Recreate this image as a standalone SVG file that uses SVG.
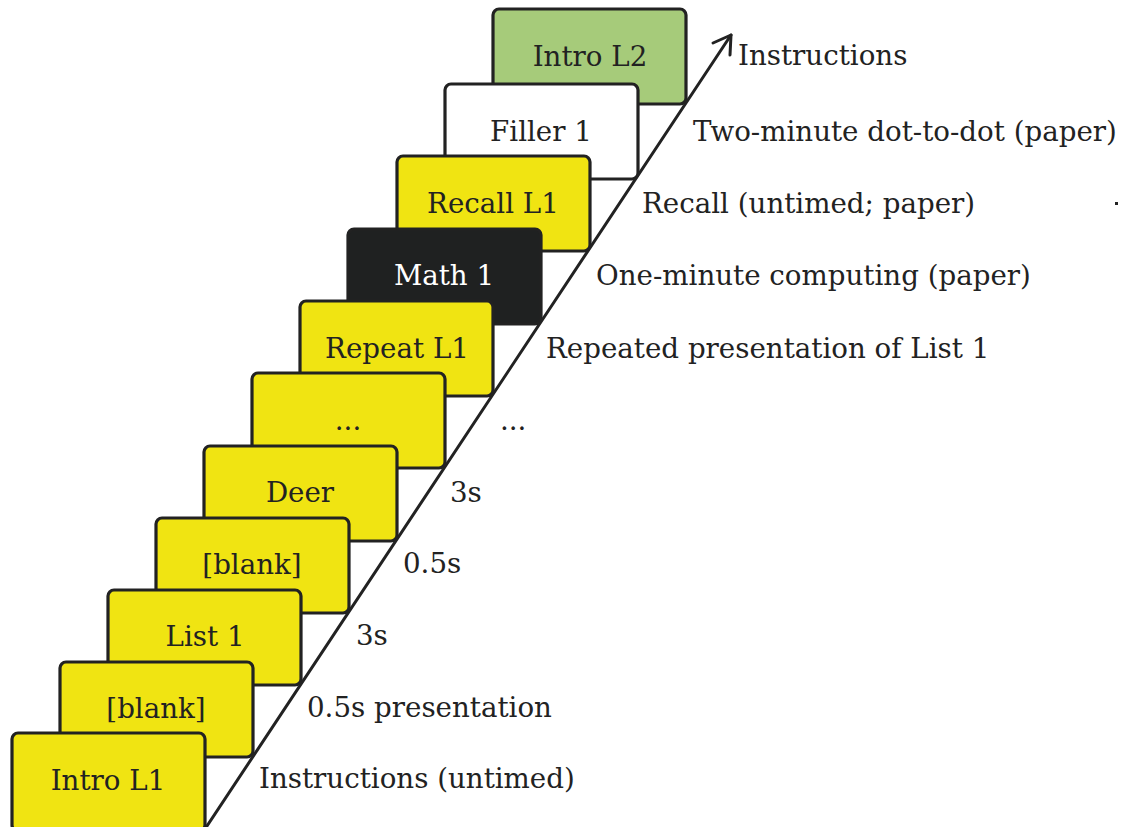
<svg xmlns="http://www.w3.org/2000/svg" width="1121" height="827" viewBox="0 0 1121 827">
<style>
.card{stroke:#222;stroke-width:3.2;}
.y{fill:#f0e412;}
.g{fill:#a6cb7a;}
.w{fill:#ffffff;}
.k{fill:#1f2121;}
text{font-family:"DejaVu Serif",serif;font-size:27.7px;fill:#222;}
.ct{text-anchor:middle;}
.wt{fill:#ffffff;}
.conn{stroke:#222;stroke-width:3;fill:none;stroke-linecap:round;stroke-linejoin:round;}
</style>
<rect width="1121" height="827" fill="#ffffff"/>
<g id="card-intro-l2"><rect class="card g" x="493" y="9" width="193" height="95" rx="6"/><text class="ct" x="590" y="66">Intro L2</text></g>
<g id="card-filler-1"><rect class="card w" x="445" y="84" width="193" height="95" rx="6"/><text class="ct" x="541" y="141">Filler 1</text></g>
<g id="card-recall-l1"><rect class="card y" x="397" y="156" width="193" height="95" rx="6"/><text class="ct" x="493" y="213">Recall L1</text></g>
<g id="card-math-1"><rect class="card k" x="348" y="229" width="193" height="95" rx="6"/><text class="ct wt" x="444" y="285">Math 1</text></g>
<g id="card-repeat-l1"><rect class="card y" x="300" y="301" width="193" height="95" rx="6"/><text class="ct" x="397" y="358">Repeat L1</text></g>
<g id="card-ellipsis"><rect class="card y" x="252" y="373" width="193" height="95" rx="6"/><text class="ct" x="348" y="430">...</text></g>
<g id="card-deer"><rect class="card y" x="204" y="446" width="193" height="95" rx="6"/><text class="ct" x="300" y="502">Deer</text></g>
<g id="card-blank-2"><rect class="card y" x="156" y="518" width="193" height="95" rx="6"/><text class="ct" x="252" y="574">[blank]</text></g>
<g id="card-list-1"><rect class="card y" x="108" y="590" width="193" height="95" rx="6"/><text class="ct" x="205" y="646">List 1</text></g>
<g id="card-blank-1"><rect class="card y" x="60" y="662" width="193" height="95" rx="6"/><text class="ct" x="156" y="718">[blank]</text></g>
<g id="card-intro-l1"><rect class="card y" x="12" y="733" width="193" height="98" rx="6"/><text class="ct" x="108" y="790">Intro L1</text></g>
<g id="connectors">
<path class="conn" d="M205,829 L731,35"/>
<path class="conn" d="M713,43 L731,35 L730,55"/>
</g>
<g id="labels">
<text x="259" y="788">Instructions (untimed)</text>
<text x="307" y="717">0.5s presentation</text>
<text x="356" y="645">3s</text>
<text x="403" y="573">0.5s</text>
<text x="450" y="502">3s</text>
<text x="500" y="430">...</text>
<text x="546" y="358">Repeated presentation of List 1</text>
<text x="596" y="285">One-minute computing (paper)</text>
<text x="642" y="213">Recall (untimed; paper)</text>
<text x="693" y="141">Two-minute dot-to-dot (paper)</text>
<text x="738" y="65">Instructions</text>
</g>
<rect x="1115" y="202" width="3" height="3" fill="#222"/>
</svg>
